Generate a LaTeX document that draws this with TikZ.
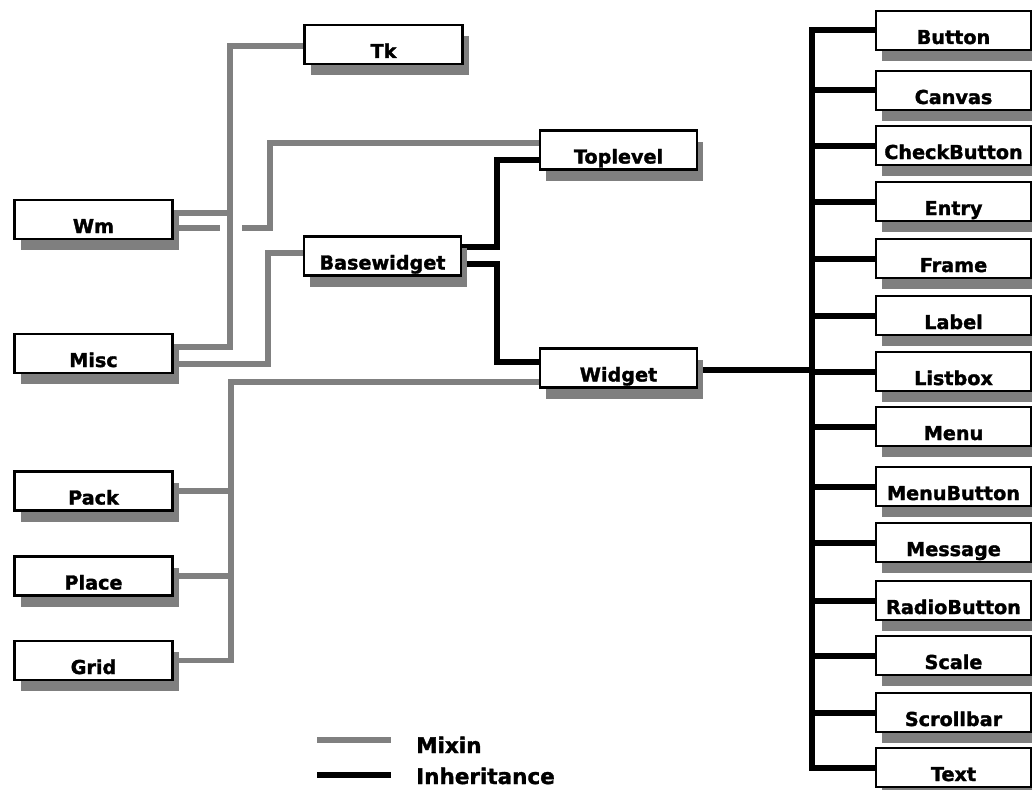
\documentclass[tikz,border=0pt]{standalone}
\usepackage{fontspec}
\setmainfont{DejaVu Sans}
\newfontfamily\heavyfont{DejaVu Sans Bold}[FakeBold=1.6]
\usetikzlibrary{shadows,backgrounds}
\definecolor{mixgray}{HTML}{808080}
\definecolor{shgray}{HTML}{7F7F7F}
\begin{document}
\begin{tikzpicture}[x=1pt,y=-1pt,
  box/.style={draw=black, line width=2.2pt, fill=white, minimum width=158pt,
    minimum height=39pt, inner sep=0pt,
    drop shadow={shadow xshift=6pt, shadow yshift=-11pt, fill=shgray, opacity=1}},
  lbl/.style={font=\fontsize{19.2}{22}\heavyfont, text height=14pt,
    text depth=0pt, inner sep=0pt, yshift=-6.5pt},
  mixin/.style={draw=mixgray, line width=5.5pt},
  inherit/.style={draw=black, line width=6pt},
  legtext/.style={font=\fontsize{21.5}{24}\heavyfont, anchor=base west, inner sep=0pt}
]
\useasboundingbox (0,0) rectangle (1032,789);

% left and middle classes
\node[box, label={[lbl]center:Tk}] (tk) at (383.5,44.5) {};
\node[box, label={[lbl]center:Wm}] (wm) at (93.5,219.5) {};
\node[box, label={[lbl]center:Misc}] (misc) at (93.5,353.5) {};
\node[box, minimum width=157pt, label={[lbl]center:Basewidget}] (base) at (382.5,256) {};
\node[box, minimum width=157pt, label={[lbl]center:Toplevel}] (top) at (618.5,150) {};
\node[box, minimum width=157pt, label={[lbl]center:Widget}] (widget) at (618.5,368) {};
\node[box, label={[lbl]center:Pack}] (pack) at (93.5,491) {};
\node[box, label={[lbl]center:Place}] (place) at (93.5,576) {};
\node[box, label={[lbl]center:Grid}] (grid) at (93.5,660.5) {};

% right column
\foreach \n/\t/\yy in {button/Button/30.5, canvas/Canvas/90.5, checkbutton/CheckButton/145.5,
  entry/Entry/201.5, frame/Frame/258.5, labelw/Label/315.5, listbox/Listbox/371.5,
  menu/Menu/426.5, menubutton/MenuButton/486.5, message/Message/542.5,
  radiobutton/RadioButton/600.5, scale/Scale/655.5, scrollbar/Scrollbar/712.5, text/Text/767.5}
  \node[box, minimum width=155pt, label={[lbl]center:\t}] (\n) at (953.5,\yy) {};

\coordinate (hopL) at (220,228);
\coordinate (hopR) at (242,228);
\coordinate (mixA) at (317,740);
\coordinate (mixB) at (391,740);
\coordinate (inhA) at (317,775);
\coordinate (inhB) at (391,775);

\begin{scope}[on background layer]
  % mixin connectors
  \draw[mixin] ([yshift=6.5pt]misc.east) -- (230,347) |- ([yshift=-1.5pt]tk.west);
  \draw[mixin] ([yshift=6.5pt]wm.east) -- (230,213);
  \draw[mixin] ([yshift=-8.5pt]wm.east) -- (hopL);
  \draw[mixin] (hopR) -- (270,228) |- ([yshift=7pt]top.west);
  \draw[mixin] ([yshift=-10.5pt]misc.east) -- (268,364) |- ([yshift=3pt]base.west);
  \draw[mixin] ([yshift=-14pt]widget.west) -- (231,382) -- (231,660.5) -- (grid.east);
  \draw[mixin] (pack.east) -- (231,491);
  \draw[mixin] (place.east) -- (231,576);
  % inheritance connectors
  \draw[inherit] ([yshift=9pt]base.east) -- (497,247) |- ([yshift=-10pt]top.west);
  \draw[inherit] ([yshift=-8pt]base.east) -- (497,264) |- ([yshift=6pt]widget.west);
  \draw[inherit] ([yshift=-2pt]widget.east) -- (812,370);
  \draw[inherit] (button.west) -- (812,30.5) -- (812,767.5) -- (text.west);
  \foreach \n in {canvas,checkbutton,entry,frame,labelw,listbox,menu,menubutton,
    message,radiobutton,scale,scrollbar}
    \draw[inherit] (\n.west) -- ++(-64,0);
\end{scope}

% legend
\draw[mixin] (mixA) -- (mixB);
\node[legtext] (mixlbl) at (416,753) {Mixin};
\draw[inherit] (inhA) -- (inhB);
\node[legtext] (inhlbl) at (416,784) {Inheritance};
\end{tikzpicture}
\end{document}
